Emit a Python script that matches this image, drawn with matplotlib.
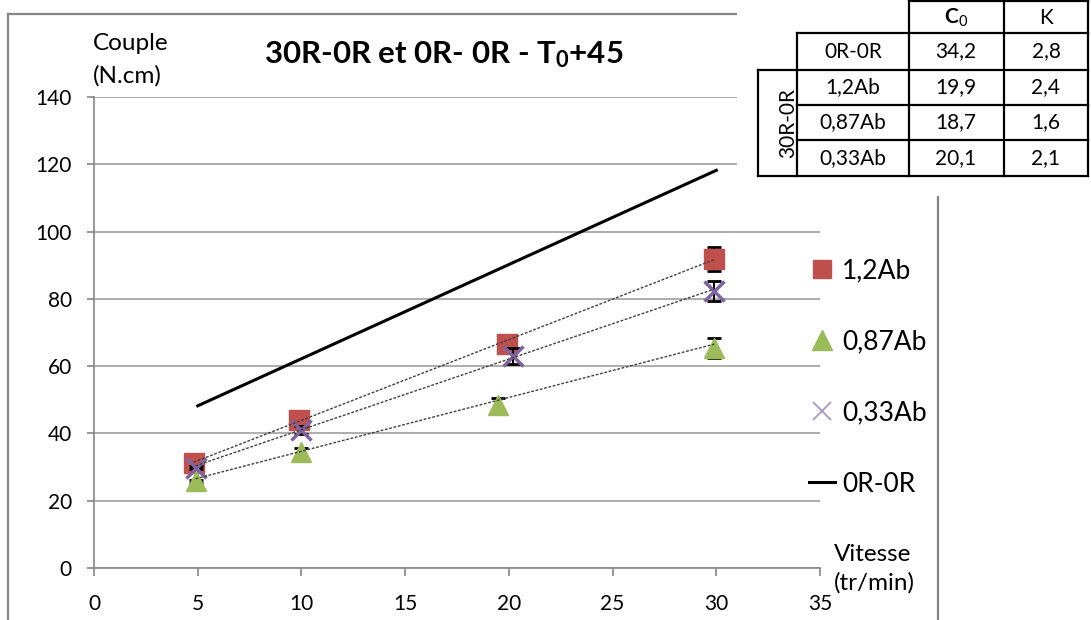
import matplotlib
matplotlib.use('Agg')
import matplotlib.pyplot as plt
from matplotlib.lines import Line2D
from matplotlib.patches import Rectangle

plt.rcParams['font.family'] = ['Lato', 'DejaVu Sans']
plt.rcParams['mathtext.fontset'] = 'custom'
plt.rcParams['mathtext.rm'] = 'Lato'
plt.rcParams['mathtext.it'] = 'Lato:italic'
plt.rcParams['mathtext.bf'] = 'Lato:bold'

W, H = 1091, 620

# measured points (vitesse tr/min, couple N.cm, error bar half-height)
vit_12 = [4.8, 9.9, 19.9, 29.9]
couple_12 = [31.3, 44.0, 66.6, 91.8]
err_12 = [0.4, 0.4, 0.4, 3.6]

vit_087 = [4.9, 10.0, 19.5, 29.9]
couple_087 = [25.8, 34.4, 48.5, 65.3]
err_087 = [0.4, 1.4, 2.0, 3.0]

vit_033 = [4.9, 10.0, 20.2, 29.9]
couple_033 = [29.8, 41.0, 63.0, 82.3]
err_033 = [0.4, 1.2, 2.4, 3.0]

# fitted model C = C0 + K * v (table in the top right)
table_rows = ['0R-0R', '1,2Ab', '0,87Ab', '0,33Ab']
table_c0 = [34.2, 19.9, 18.7, 20.1]
table_k = [2.8, 2.4, 1.6, 2.1]
ref_vit = [5, 30]

series_labels = ['1,2Ab', '0,87Ab', '0,33Ab', '0R-0R']
x_ticks = [0, 5, 10, 15, 20, 25, 30, 35]
y_ticks = [0, 20, 40, 60, 80, 100, 120, 140]


def fx(x):
    return x / W


def fy(y):
    return 1 - y / H


fig = plt.figure(figsize=(W / 100, H / 100), dpi=100)
ax = fig.add_axes([fx(94), fy(568), (820 - 94) / W, (568 - 97) / H])

grey = '#868686'
ax.set_xlim(0, 35)
ax.set_ylim(0, 140)
ax.set_xticks(x_ticks)
ax.set_yticks(y_ticks)
ax.yaxis.grid(True, color='#a6a6a6', lw=1.3)
ax.set_axisbelow(True)
for s in ['top', 'right']:
    ax.spines[s].set_visible(False)
for s in ['left', 'bottom']:
    ax.spines[s].set_color(grey)
    ax.spines[s].set_linewidth(1.2)
ax.tick_params(axis='y', direction='out', length=5, width=1.2, color=grey,
               pad=11, labelsize=15)
ax.tick_params(axis='x', direction='out', length=6, width=1.2, color=grey,
               pad=13, labelsize=15)

# 0R-0R reference line
ref_couple = [table_c0[0] + table_k[0] * v for v in ref_vit]
ax.plot(ref_vit, ref_couple, color='black', lw=2.2, zorder=12)

# measured series with error bars
series = [
    (vit_12, couple_12, err_12, 's', '#C0504D', 1),
    (vit_087, couple_087, err_087, '^', '#9BBB59', 2),
    (vit_033, couple_033, err_033, 'x', '#8064A2', 3),
]
for i, (vx, vy, ve, mk, col, row) in enumerate(series):
    ax.errorbar(vx, vy, yerr=ve, fmt='none', ecolor='black', elinewidth=1.5,
                capsize=5, capthick=2, zorder=2 + 2 * i)
    if mk == 'x':
        ax.plot(vx, vy, mk, ms=14, mew=2.5, color=col, zorder=3 + 2 * i)
    else:
        ax.plot(vx, vy, mk, ms=14, color=col, zorder=3 + 2 * i)
    # dotted linear trendline
    ends = [vx[0], vx[-1]]
    ax.plot(ends, [table_c0[row] + table_k[row] * v for v in ends],
            color='#404040', lw=1, ls=(0, (2, 1.2)), zorder=20)

# legend
handles = [
    Line2D([], [], marker='s', color='#C0504D', ls='none', ms=13),
    Line2D([], [], marker='^', color='#9BBB59', ls='none', ms=14),
    Line2D([], [], marker='x', color='#B3A2C7', ls='none', ms=13, mew=1.5),
    Line2D([], [], color='black', lw=2.2),
]
fig.legend(handles, series_labels, loc='upper left',
           bbox_to_anchor=(fx(809), fy(258)), frameon=False, borderpad=0,
           borderaxespad=0, handlelength=1.0, handletextpad=0.25,
           labelspacing=1.75, fontsize=19)

# titles
fig.text(fx(444), fy(63), '30R-0R et 0R- 0R - T$_\\mathbf{0}$+45', ha='center',
         va='baseline', fontsize=22.5, weight='bold')
fig.text(fx(93), fy(50), 'Couple', ha='left', va='baseline', fontsize=17.5)
fig.text(fx(93), fy(83), '(N.cm)', ha='left', va='baseline', fontsize=17.5)
fig.text(fx(873), fy(561), 'Vitesse', ha='center', va='baseline', fontsize=17.5)
fig.text(fx(874), fy(590), '(tr/min)', ha='center', va='baseline', fontsize=17.5)

# chart frame
fig.add_artist(Line2D([fx(8), fx(737)], [fy(14), fy(14)], color=grey, lw=1.6))
fig.add_artist(Line2D([fx(8), fx(8)], [fy(14), fy(620)], color=grey, lw=1.6))
fig.add_artist(Line2D([fx(938), fx(938)], [fy(197), fy(620)], color=grey, lw=1.6))

# table box (white background covering the chart corner)
fig.add_artist(Rectangle((fx(737), fy(196)), 1 - fx(737), fy(0) - fy(196),
                         transform=fig.transFigure, facecolor='white',
                         edgecolor='none', zorder=5))
cols = [758, 797, 909, 1004, 1088]
rows = [1, 33, 70, 105, 140, 176]


def tline(x0, x1, y0, y1):
    fig.add_artist(Line2D([fx(x0), fx(x1)], [fy(y0), fy(y1)], color='black',
                          lw=1.6, zorder=6))


tline(cols[2], cols[4], rows[0], rows[0])
tline(cols[1], cols[4], rows[1], rows[1])
tline(cols[0], cols[4], rows[2], rows[2])
tline(cols[1], cols[4], rows[3], rows[3])
tline(cols[1], cols[4], rows[4], rows[4])
tline(cols[0], cols[4], rows[5], rows[5])
tline(cols[0], cols[0], rows[2], rows[5])
tline(cols[1], cols[1], rows[1], rows[5])
for c in cols[2:]:
    tline(c, c, rows[0], rows[5])

fs = 15
fig.text(fx(956), fy(18), r'$\mathbf{C}_0$', ha='center', va='center',
         fontsize=fs, zorder=7)
fig.text(fx(1046), fy(18), 'K', ha='center', va='center', fontsize=fs, zorder=7)
for i, name in enumerate(table_rows):
    yc = (rows[i + 1] + rows[i + 2]) / 2
    fig.text(fx(853), fy(yc), name, ha='center', va='center', fontsize=fs, zorder=7)
    fig.text(fx(956), fy(yc), f'{table_c0[i]:.1f}'.replace('.', ','),
             ha='center', va='center', fontsize=fs, zorder=7)
    fig.text(fx(1046), fy(yc), f'{table_k[i]:.1f}'.replace('.', ','),
             ha='center', va='center', fontsize=fs, zorder=7)
fig.text(fx(788), fy(123), '30R-0R', ha='center', va='center', rotation=90,
         fontsize=fs, zorder=7)

fig.savefig('out.png', dpi=100)
